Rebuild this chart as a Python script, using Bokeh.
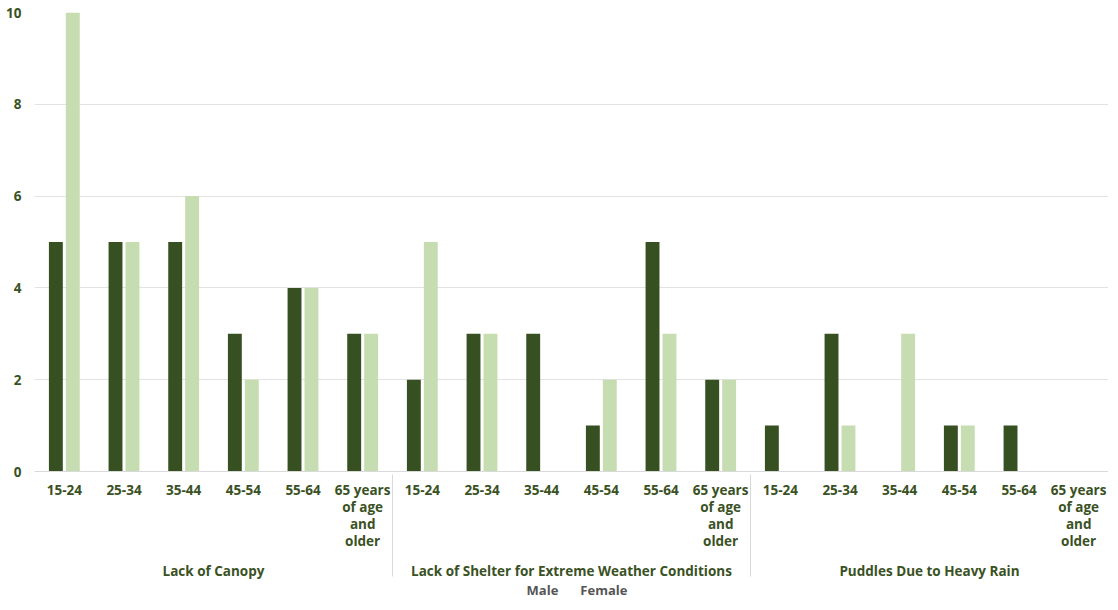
from bokeh.plotting import figure
from bokeh.layouts import column
from bokeh.models import FactorRange, ColumnDataSource, Legend, LegendItem, FixedTicker
from bokeh.transform import dodge
from bokeh.embed import file_html
from bokeh.resources import INLINE

groups = ["Lack of Canopy", "Lack of Shelter for Extreme Weather Conditions", "Puddles Due to Heavy Rain"]
ages = ["15-24", "25-34", "35-44", "45-54", "55-64", "65 years\nof age\nand\nolder"]

male_canopy = [5, 5, 5, 3, 4, 3]
female_canopy = [10, 5, 6, 2, 4, 3]
male_shelter = [2, 3, 3, 1, 5, 2]
female_shelter = [5, 3, 0, 2, 3, 2]
male_puddles = [1, 3, 0, 1, 1, 0]
female_puddles = [0, 1, 3, 1, 0, 0]

series_names = ["Male", "Female"]
y_ticks = [0, 2, 4, 6, 8, 10]

factors = [(g, a) for g in groups for a in ages]
male = male_canopy + male_shelter + male_puddles
female = female_canopy + female_shelter + female_puddles
src = ColumnDataSource(dict(x=factors, male=male, female=female))

TXT = "#3a5124"
FONT = "Open Sans"
MALE_C = "#375022"
FEMALE_C = "#c6ddb1"

p = figure(x_range=FactorRange(*factors, group_padding=0, range_padding=0, factor_padding=0),
           y_range=(0, 10), frame_width=1074, frame_height=459,
           output_backend="svg", toolbar_location=None,
           min_border_top=12, min_border_left=34, min_border_right=0, min_border_bottom=0)

r1 = p.vbar(x=dodge("x", -0.142, range=p.x_range), top="male", width=0.233, source=src,
            fill_color=MALE_C, line_color=None)
r2 = p.vbar(x=dodge("x", 0.142, range=p.x_range), top="female", width=0.233, source=src,
            fill_color=FEMALE_C, line_color=None)

p.outline_line_color = None
p.xgrid.grid_line_color = None
p.ygrid.grid_line_color = "#e2e2e2"
p.ygrid.ticker = FixedTicker(ticks=y_ticks)

ya = p.yaxis[0]
ya.ticker = FixedTicker(ticks=y_ticks)
ya.axis_line_color = None
ya.major_tick_line_color = None
ya.minor_tick_line_color = None
ya.major_tick_out = 0
ya.major_tick_in = 0
ya.major_label_standoff = 13
ya.major_label_text_font = FONT
ya.major_label_text_font_style = "bold"
ya.major_label_text_font_size = "13.5px"
ya.major_label_text_color = TXT

xa = p.xaxis[0]
xa.axis_line_color = "#d9d9d9"
xa.major_tick_line_color = None
xa.minor_tick_line_color = None
xa.major_tick_out = 0
xa.major_tick_in = 0
xa.major_label_standoff = 9
xa.major_label_text_font = FONT
xa.major_label_text_font_style = "bold"
xa.major_label_text_font_size = "13.5px"
xa.major_label_text_color = TXT
xa.major_label_text_line_height = 0.95
xa.major_label_orientation = "horizontal"
xa.group_text_font = FONT
xa.group_text_font_style = "bold"
xa.group_text_font_size = "13.5px"
xa.group_text_color = TXT
xa.group_label_orientation = "horizontal"
xa.separator_line_color = "#d9d9d9"
xa.separator_line_width = 1

# separate strip holding the legend, placed under the chart
p2 = figure(width=34 + 1074, height=16, x_range=(0, 1), y_range=(0, 1),
            output_backend="svg", toolbar_location=None,
            x_axis_location=None, y_axis_location=None,
            min_border_top=0, min_border_bottom=0, min_border_left=34, min_border_right=0)
p2.outline_line_color = None
p2.xgrid.grid_line_color = None
p2.ygrid.grid_line_color = None
empty = ColumnDataSource(dict(x=[], top=[]))
k1 = p2.vbar(x="x", top="top", width=0.1, source=empty, fill_color=MALE_C, line_color=None)
k2 = p2.vbar(x="x", top="top", width=0.1, source=empty, fill_color=FEMALE_C, line_color=None)

legend = Legend(items=[LegendItem(label=series_names[0], renderers=[k1]),
                       LegendItem(label=series_names[1], renderers=[k2])],
                orientation="horizontal", location="center",
                border_line_color=None, background_fill_alpha=0,
                glyph_width=9, glyph_height=9, label_standoff=3, spacing=10,
                padding=0, margin=0, label_height=14,
                label_text_font=FONT, label_text_font_style="bold",
                label_text_font_size="13px", label_text_color="#555555")
p2.add_layout(legend, "center")

layout = column(p, p2, spacing=0)
open("out.html", "w").write(file_html(layout, INLINE))
